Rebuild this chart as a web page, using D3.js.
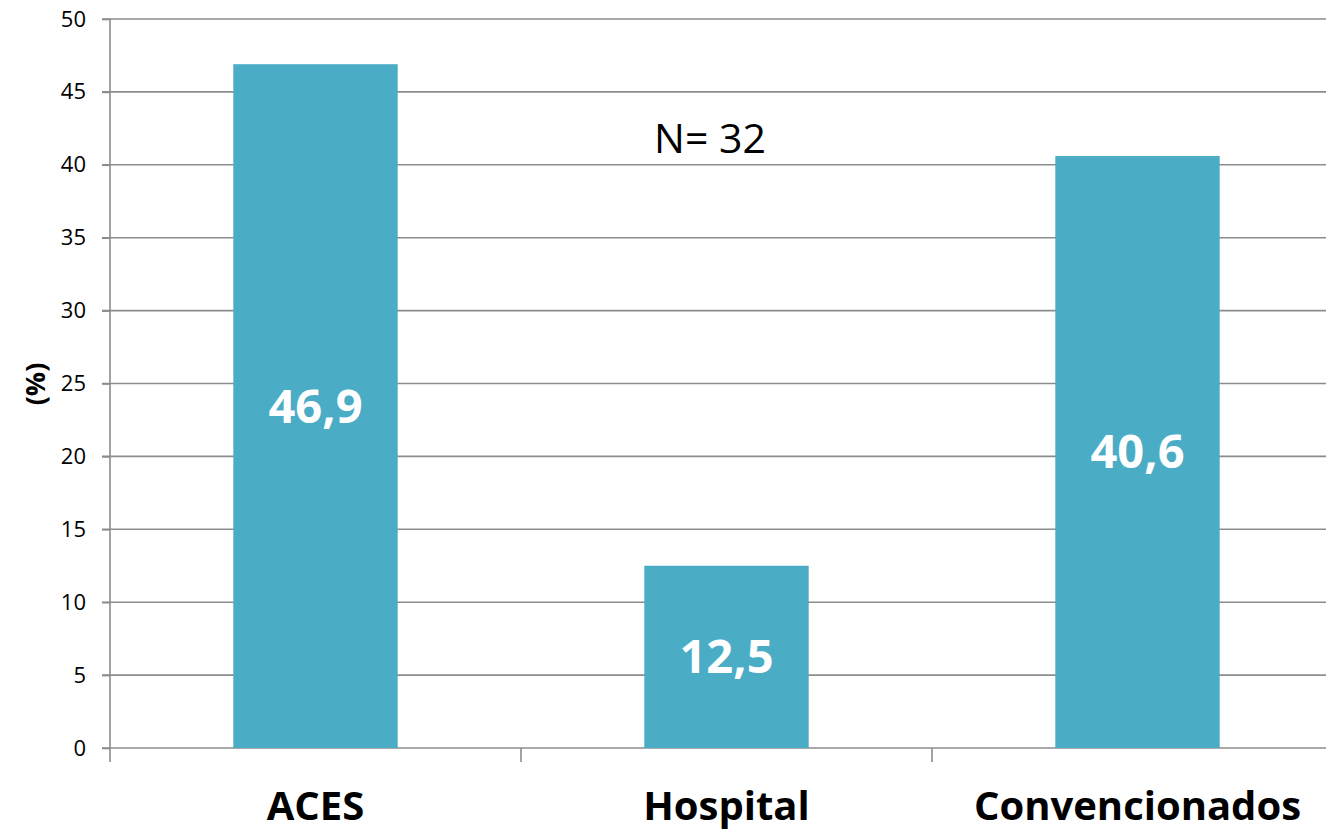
<!DOCTYPE html>
<html>
<head>
<meta charset="utf-8">
<script src="https://cdn.jsdelivr.net/npm/d3@7"></script>
<style>
  html, body { margin: 0; padding: 0; background: #fff; }
  svg { display: block; font-family: "Open Sans", Calibri, sans-serif; }
</style>
</head>
<body>
<svg id="chart" width="1326" height="832"></svg>
<script>
// Share of respondents by type of service
const categories = ["ACES", "Hospital", "Convencionados"];
const values = [46.9, 12.5, 40.6];
const valueLabels = ["46,9", "12,5", "40,6"];
const yTicks = [0, 5, 10, 15, 20, 25, 30, 35, 40, 45, 50];
const sampleNote = "N= 32";
const yTitle = "(%)";

const svg = d3.select("#chart");
const plotLeft = 110, plotTop = 19, plotBottom = 748, plotRight = 1343;
const gridColor = "#8c8c8c";
const barColor = "#4bacc6";

const x = d3.scaleBand()
  .domain(categories)
  .range([plotLeft, plotRight])
  .paddingInner(0.6)
  .paddingOuter(0.3);

const y = d3.scaleLinear().domain([0, 50]).range([plotBottom, plotTop]);

// Horizontal gridlines
svg.append("g")
  .selectAll("line")
  .data(yTicks)
  .join("line")
  .attr("x1", plotLeft - 8)
  .attr("x2", plotRight)
  .attr("y1", d => y(d))
  .attr("y2", d => y(d))
  .attr("stroke", gridColor)
  .attr("stroke-width", 1.6);

// Y axis
const yAxis = svg.append("g")
  .attr("transform", `translate(${plotLeft},0)`)
  .call(d3.axisLeft(y).tickValues(yTicks).tickSize(8).tickPadding(16));
yAxis.select(".domain").remove();
yAxis.selectAll(".tick line").attr("stroke", gridColor).attr("stroke-width", 1.6);
yAxis.selectAll(".tick text")
  .attr("fill", "#000")
  .style("font-family", "'Open Sans', sans-serif")
  .style("font-size", "22px");

svg.append("line")
  .attr("x1", plotLeft).attr("x2", plotLeft)
  .attr("y1", plotTop).attr("y2", plotBottom + 14)
  .attr("stroke", gridColor)
  .attr("stroke-width", 1.6);

// Category separators on the x axis
const step = x.step();
svg.append("g")
  .selectAll("line")
  .data(categories.slice(1))
  .join("line")
  .attr("x1", d => x(d) - x.paddingOuter() * step)
  .attr("x2", d => x(d) - x.paddingOuter() * step)
  .attr("y1", plotBottom)
  .attr("y2", plotBottom + 14)
  .attr("stroke", gridColor)
  .attr("stroke-width", 1.6);

// Bars
svg.append("g")
  .selectAll("rect")
  .data(values)
  .join("rect")
  .attr("x", (d, i) => x(categories[i]))
  .attr("width", x.bandwidth())
  .attr("y", d => y(d))
  .attr("height", d => y(0) - y(d))
  .attr("fill", barColor);

// Value labels inside bars
svg.append("g")
  .selectAll("text")
  .data(values)
  .join("text")
  .attr("x", (d, i) => x(categories[i]) + x.bandwidth() / 2)
  .attr("y", d => (y(d) + y(0)) / 2)
  .attr("dy", "0.35em")
  .attr("text-anchor", "middle")
  .attr("fill", "#fff")
  .style("font-size", "47px")
  .style("font-weight", "bold")
  .text((d, i) => valueLabels[i]);

// Category labels
svg.append("g")
  .selectAll("text")
  .data(categories)
  .join("text")
  .attr("x", d => x(d) + x.bandwidth() / 2)
  .attr("y", 820)
  .attr("text-anchor", "middle")
  .attr("fill", "#000")
  .style("font-size", "40px")
  .style("font-weight", "bold")
  .text(d => d);

// Y axis title
svg.append("text")
  .attr("transform", "translate(45,384) rotate(-90)")
  .attr("text-anchor", "middle")
  .attr("fill", "#000")
  .style("font-size", "27px")
  .style("font-weight", "bold")
  .text(yTitle);

// Sample size note
svg.append("text")
  .attr("x", 710)
  .attr("y", 153)
  .attr("text-anchor", "middle")
  .attr("fill", "#000")
  .style("font-size", "41px")
  .text(sampleNote);
</script>
</body>
</html>
